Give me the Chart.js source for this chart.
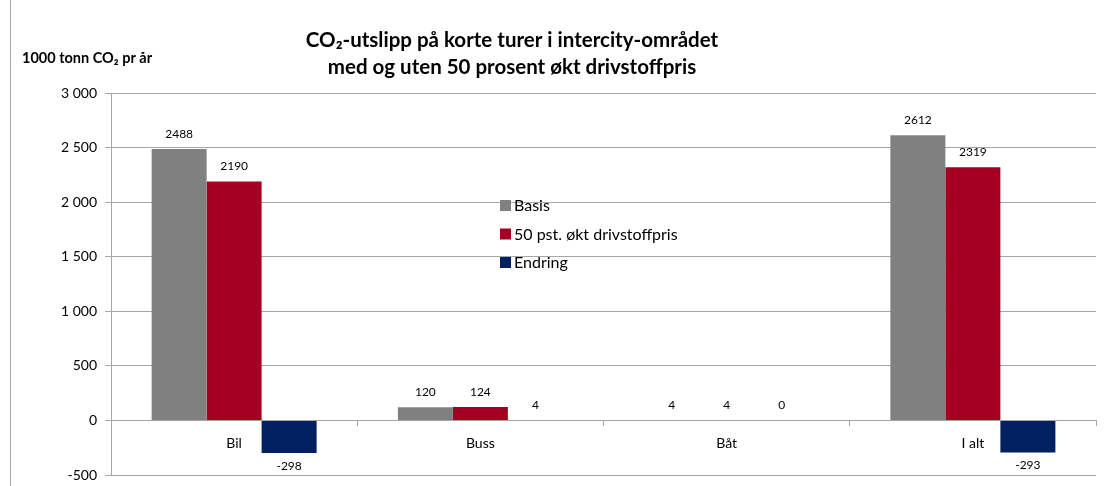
<!DOCTYPE html>
<html>
<head>
<meta charset="utf-8">
<script src="https://cdn.jsdelivr.net/npm/chart.js@4/dist/chart.umd.min.js"></script>
<style>
  body { margin: 0; background: #fff; }
  canvas { display: block; }
</style>
</head>
<body>
<canvas id="co2Chart" width="1111" height="486"></canvas>
<script>
const categories = ['Bil', 'Buss', 'Båt', 'I alt'];
const basis = [2488, 120, 4, 2612];
const okt = [2190, 124, 4, 2319];
const endring = [-298, 4, 0, -293];
const seriesNames = ['Basis', '50 pst. økt drivstoffpris', 'Endring'];
const seriesColors = ['#808080', '#A50021', '#002060'];
const titleLines = ['CO₂-utslipp på korte turer i intercity-området', 'med og uten 50 prosent økt drivstoffpris'];
const yLabel = '1000 tonn CO₂ pr år';

const FONT = 'Lato, "Open Sans", sans-serif';

function fmt(v) {
    return String(v).replace(/\B(?=(\d{3})+(?!\d))/g, ' ');
}

// title, axis label, legend, frame and bar values
const decorations = {
    id: 'decorations',
    afterDraw(chart) {
        const ctx = chart.ctx;
        ctx.save();

        ctx.strokeStyle = '#a6a6a6';
        ctx.lineWidth = 1;
        ctx.beginPath();
        ctx.moveTo(10.5, 0);
        ctx.lineTo(10.5, chart.height);
        ctx.stroke();

        ctx.fillStyle = '#000';
        ctx.textAlign = 'center';
        ctx.textBaseline = 'middle';
        ctx.font = 'bold 20.5px ' + FONT;
        ctx.fillText(titleLines[0], 512, 40);
        ctx.fillText(titleLines[1], 512, 67);

        ctx.textAlign = 'left';
        ctx.font = 'bold 14.5px ' + FONT;
        ctx.fillText(yLabel, 22, 58);

        ctx.font = '16px ' + FONT;
        seriesNames.forEach(function (name, i) {
            let y = 205 + i * 28.5;
            ctx.fillStyle = seriesColors[i];
            ctx.fillRect(500, y - 5, 11, 11);
            ctx.fillStyle = '#000';
            ctx.fillText(name, 514, y + 1);
        });

        ctx.font = '12px ' + FONT;
        ctx.textAlign = 'center';
        chart.data.datasets.forEach(function (ds, di) {
            let meta = chart.getDatasetMeta(di);
            meta.data.forEach(function (bar, i) {
                let v = ds.data[i];
                let y = v < 0 ? bar.y + 13 : bar.y - 15;
                ctx.fillText(String(v), bar.x, y);
            });
        });
        ctx.restore();
    }
};

new Chart(document.getElementById('co2Chart').getContext('2d'), {
    type: 'bar',
    data: {
        labels: categories,
        datasets: [
            { label: seriesNames[0], data: basis, backgroundColor: seriesColors[0] },
            { label: seriesNames[1], data: okt, backgroundColor: seriesColors[1] },
            { label: seriesNames[2], data: endring, backgroundColor: seriesColors[2] }
        ]
    },
    options: {
        responsive: false,
        animation: false,
        categoryPercentage: 0.67,
        barPercentage: 1.0,
        layout: { padding: { left: 11, right: 15, top: 93, bottom: 11 } },
        plugins: {
            legend: { display: false },
            title: { display: false },
            tooltip: { enabled: false }
        },
        scales: {
            x: {
                position: { y: 0 },
                afterFit: function (scale) { scale.paddingBottom = 0; scale.paddingTop = 0; },
                grid: {
                    offset: true,
                    drawOnChartArea: false,
                    drawTicks: true,
                    tickLength: 5,
                    color: '#a6a6a6'
                },
                border: { display: true, color: '#a6a6a6' },
                ticks: {
                    color: '#000',
                    padding: 10,
                    font: { family: FONT, size: 14 }
                }
            },
            y: {
                min: -500,
                max: 3000,
                afterFit: function (scale) {
                    scale.width = 100;
                    scale.paddingBottom = 0;
                    scale.paddingTop = 0;
                },
                grid: {
                    color: '#a6a6a6',
                    tickLength: 6
                },
                border: { display: true, color: '#a6a6a6' },
                ticks: {
                    stepSize: 500,
                    color: '#000',
                    padding: 8,
                    font: { family: FONT, size: 14 },
                    callback: function (v) { return fmt(v); }
                }
            }
        }
    },
    plugins: [decorations]
});
</script>
</body>
</html>
